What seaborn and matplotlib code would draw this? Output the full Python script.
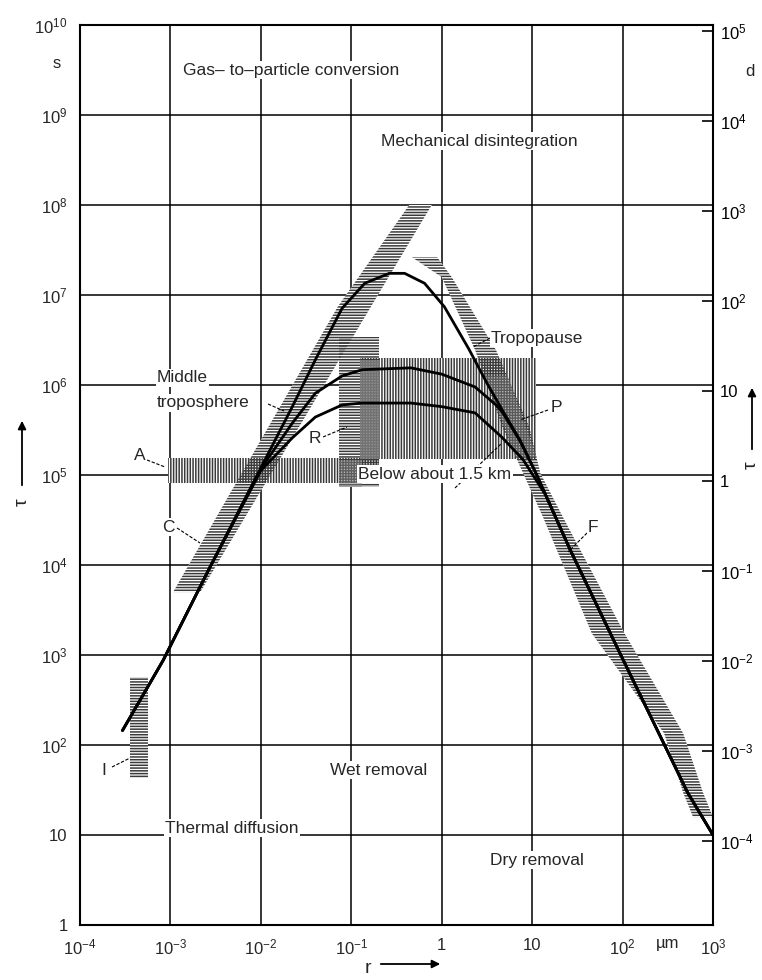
import matplotlib
matplotlib.use('Agg')
import matplotlib.pyplot as plt
from matplotlib.lines import Line2D
from matplotlib.patches import FancyArrowPatch
from matplotlib.ticker import NullLocator
import pandas as pd
import seaborn as sns

# residence time tau (s) of aerosol particles vs radius r (um)
r_top = [2.95e-4, 8.3e-4, 2.75e-3, 1.0e-2, 0.022, 0.040, 0.079, 0.141, 0.263, 0.389,
         0.646, 1.07, 2.0, 3.16, 4.68, 7.41, 11.0, 14.1, 26.3, 97.7, 525, 1000]
tau_top = [145, 871, 9550, 1.2e5, 5.6e5, 1.9e6, 7.1e6, 1.35e7, 1.74e7, 1.74e7,
           1.35e7, 7.4e6, 2.5e6, 1.05e6, 5.25e5, 2.4e5, 1.05e5, 6.0e4, 1.48e4, 955, 29.5, 10]
r_mid = [2.95e-4, 8.3e-4, 2.75e-3, 1.0e-2, 0.0224, 0.040, 0.079, 0.132, 0.457, 1.0,
         2.34, 3.98, 4.68, 7.41, 11.0, 14.1, 26.3, 97.7, 525, 1000]
tau_mid = [145, 871, 9550, 1.17e5, 3.8e5, 8.1e5, 1.26e6, 1.48e6, 1.55e6, 1.32e6,
           9.5e5, 6.0e5, 5.0e5, 2.35e5, 1.05e5, 6.0e4, 1.48e4, 955, 29.5, 10]
r_low = [2.95e-4, 8.3e-4, 2.75e-3, 1.0e-2, 0.0224, 0.040, 0.079, 0.132, 0.457, 1.0,
         2.34, 4.68, 7.94, 14.1, 26.3, 97.7, 525, 1000]
tau_low = [145, 871, 9550, 1.12e5, 2.6e5, 4.4e5, 6.0e5, 6.3e5, 6.3e5, 5.75e5,
           4.9e5, 2.6e5, 1.48e5, 6.0e4, 1.48e4, 955, 29.5, 10]

# measured ranges (hatched areas)
band_left_r = [1.07e-3, 2.14e-3, 0.776, 0.437, 0.0708]
band_left_tau = [5.0e3, 5.0e3, 1e8, 1e8, 7.4e6]
band_right_r = [0.468, 1.0, 2.34, 4.68, 7.94, 13.2, 45.7, 288, 468, 603,
                1000, 776, 468, 105, 21.9, 12.3, 9.33, 3.98, 1.29, 0.891]
band_right_tau = [2.63e7, 1.58e7, 2.45e6, 3.4e5, 1.05e5, 3.4e4, 1.74e3, 135, 29.5, 15.8,
                  15.8, 29.5, 135, 1.74e3, 3.4e4, 1.05e5, 3.4e5, 2.45e6, 1.58e7, 2.63e7]
A_r, A_tau = [9.5e-4, 0.2], [8.1e4, 1.55e5]
R_r, R_tau = [0.074, 0.2], [7.4e4, 3.4e6]
box_r, box_tau = [0.126, 11.0], [1.5e5, 2.0e6]
I_r, I_tau = [3.55e-4, 5.6e-4], [43, 575]
# darker (overprinted) spots
dark_r, dark_tau = [0.126, 0.21], [1.5e5, 1.9e6]
spotA_r, spotA_tau = [0.074, 0.13], [7.4e4, 1.45e5]
spotP_r = [3.0, 5.4, 11.2, 6.6]
spotP_tau = [1.26e6, 1.26e6, 1.58e5, 1.58e5]

x_ticks = [1e-4, 1e-3, 1e-2, 1e-1, 1, 10, 1e2, 1e3]
x_labels = ['10$^{-4}$', '10$^{-3}$', '10$^{-2}$', '10$^{-1}$', '1', '10', '10$^{2}$', '10$^{3}$']
y_ticks = [10.0 ** k for k in range(11)]
y_labels = ['1', '10'] + ['10$^{%d}$' % k for k in range(2, 11)]
d_ticks = [10.0 ** k for k in range(-4, 6)]
d_labels = ['10$^{%d}$' % k for k in range(-4, 0)] + ['1', '10'] + ['10$^{%d}$' % k for k in range(2, 6)]

sns.set_style('white')
plt.rcParams['font.family'] = ['Liberation Sans', 'DejaVu Sans']
plt.rcParams['mathtext.fontset'] = 'custom'
plt.rcParams['mathtext.rm'] = 'Liberation Sans'
plt.rcParams['mathtext.it'] = 'Liberation Sans'
plt.rcParams['hatch.linewidth'] = 1.1
FS = 12
FS_TXT = 12.5

W, H = 762, 980
fig = plt.figure(figsize=(W / 100, H / 100), dpi=100)
ax = fig.add_axes([80 / W, 1 - 925 / H, 633 / W, 900 / H])
ax.set_xscale('log')
ax.set_yscale('log')
ax.set_xlim(1e-4, 1e3)
ax.set_ylim(1, 1e10)


def rect(rr, tt):
    return [rr[0], rr[1], rr[1], rr[0]], [tt[0], tt[0], tt[1], tt[1]]


areas = [
    (band_left_r, band_left_tau, '------'),
    (band_right_r, band_right_tau, '------'),
    (*rect(A_r, A_tau), '||||||'),
    (*rect(R_r, R_tau), '------'),
    (*rect(box_r, box_tau), '||||||'),
    (*rect(I_r, I_tau), '------'),
]
for xs, ys, h in areas:
    ax.fill(xs, ys, facecolor='white', lw=0, zorder=1)
for xs, ys, h in areas:
    ax.fill(xs, ys, facecolor='none', edgecolor='#3a3a3a', hatch=h, lw=0, zorder=2)
for xs, ys, a in [(*rect(dark_r, dark_tau), 0.8), (*rect(spotA_r, spotA_tau), 0.5),
                  (spotP_r, spotP_tau, 0.45)]:
    ax.fill(xs, ys, facecolor='#808080', alpha=a, lw=0, zorder=2.5)

curves = pd.concat([
    pd.DataFrame({'r': r_top, 'tau': tau_top, 'curve': 'Tropopause'}),
    pd.DataFrame({'r': r_mid, 'tau': tau_mid, 'curve': 'Middle troposphere'}),
    pd.DataFrame({'r': r_low, 'tau': tau_low, 'curve': 'Below about 1.5 km'}),
])
sns.lineplot(data=curves, x='r', y='tau', units='curve', estimator=None, sort=False,
             color='black', lw=2.0, ax=ax, zorder=4, legend=False)

ax.set_xticks(x_ticks, x_labels)
ax.set_yticks(y_ticks, y_labels)
ax.xaxis.set_minor_locator(NullLocator())
ax.yaxis.set_minor_locator(NullLocator())
ax.tick_params(length=0, labelsize=FS, pad=9)
ax.grid(True, color='black', lw=1.1)
ax.set_axisbelow(True)
ax.set_xlabel('')
ax.set_ylabel('')
for s in ax.spines.values():
    s.set_color('black')
    s.set_linewidth(1.5)

ax2 = ax.twinx()
ax2.set_yscale('log')
ax2.set_ylim(1 / 86400, 1e10 / 86400)
ax2.set_yticks(d_ticks, d_labels)
ax2.yaxis.set_minor_locator(NullLocator())
ax2.tick_params(direction='in', length=8, width=1.2, labelsize=FS, pad=5, colors='black')
for s in ax2.spines.values():
    s.set_visible(False)


def px(x, y):
    return x / W, 1 - y / H


def label(x, y, s, ha='left'):
    fig.text(*px(x, y), s, ha=ha, va='center', fontsize=FS_TXT, zorder=5,
             bbox=dict(facecolor='white', edgecolor='none', pad=1.0))


label(183, 70, 'Gas– to–particle conversion')
label(381, 141, 'Mechanical disintegration')
label(491, 338, 'Tropopause')
label(157, 378, 'Middle')
label(157, 403, 'troposphere')
label(134, 455, 'A')
label(309, 438, 'R')
label(162, 527, 'C')
label(101, 770, 'I')
label(551, 407, 'P')
label(358, 474, 'Below about 1.5 km')
label(588, 527, 'F')
label(330, 770, 'Wet removal')
label(165, 828, 'Thermal diffusion')
label(490, 860, 'Dry removal')
fig.text(*px(57, 64), 's', ha='center', va='center', fontsize=FS)
fig.text(*px(750, 72), 'd', ha='center', va='center', fontsize=FS)
fig.text(*px(668, 943), 'µm', ha='center', va='center', fontsize=FS)

leaders = [(147, 460, 165, 467), (177, 528, 200, 543), (112, 767, 130, 758),
           (323, 437, 347, 427), (268, 404, 284, 411), (490, 338, 473, 347),
           (548, 410, 520, 420), (455, 488, 502, 443), (587, 533, 568, 552)]
for x0, y0, x1, y1 in leaders:
    fig.add_artist(Line2D([x0 / W, x1 / W], [1 - y0 / H, 1 - y1 / H], transform=fig.transFigure,
                          color='black', lw=0.8, ls=(0, (3, 1.5)), zorder=5))

# axis symbols with arrows
fig.text(*px(22, 502), 'τ', rotation=90, ha='center', va='center', fontsize=14)
fig.add_artist(FancyArrowPatch(px(22, 488), px(22, 418), transform=fig.transFigure,
                               arrowstyle='-|>', mutation_scale=12, color='black', lw=1.3))
fig.text(*px(751, 465), 'τ', rotation=90, ha='center', va='center', fontsize=14)
fig.add_artist(FancyArrowPatch(px(752, 452), px(752, 385), transform=fig.transFigure,
                               arrowstyle='-|>', mutation_scale=12, color='black', lw=1.3))
fig.text(*px(368, 968), 'r', ha='center', va='center', fontsize=14)
fig.add_artist(FancyArrowPatch(px(378, 964), px(443, 964), transform=fig.transFigure,
                               arrowstyle='-|>', mutation_scale=12, color='black', lw=1.3))

fig.savefig('out.png', dpi=100)
